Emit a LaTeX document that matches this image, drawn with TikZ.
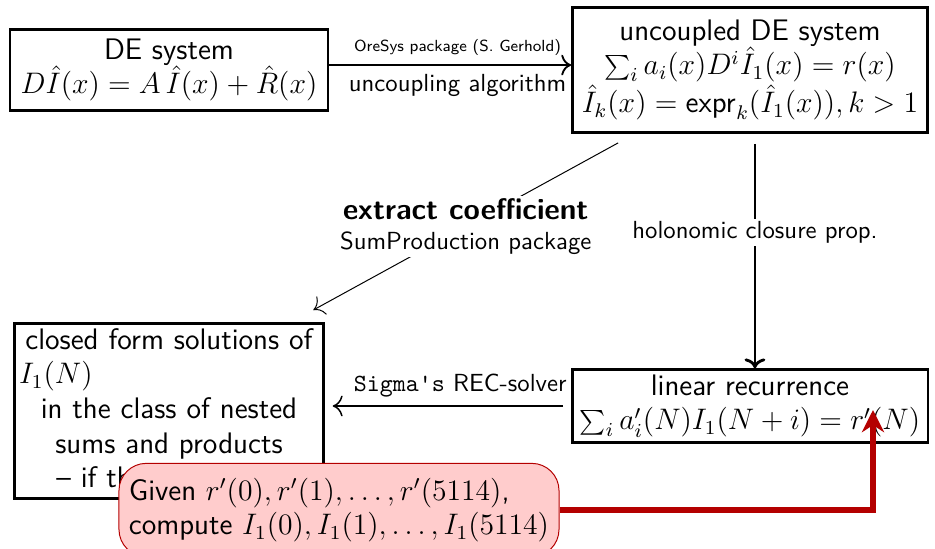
\documentclass[tikz,border=0pt]{standalone}
\usetikzlibrary{arrows.meta}
\renewcommand{\familydefault}{\sfdefault}
\definecolor{darkred}{RGB}{180,0,0}
\definecolor{lightred}{RGB}{255,204,204}

\begin{document}
\begin{tikzpicture}[
        x=0.0142cm, y=-0.0142cm, % one unit = one pixel of the slide
        box/.style={draw, line width=1.15pt, align=center, font=\large, inner sep=2pt}, % the main boxes
        flow/.style={draw, line width=0.75pt, -{To[length=4pt]}},
        thinflow/.style={draw, line width=0.4pt, -{To[length=4pt]}},
        lbl/.style={fill=white, align=center, inner sep=1pt},
        hint/.style={draw=darkred, fill=lightred, rounded corners=11pt, align=left, font=\large, inner sep=4pt},
        redflow/.style={draw=darkred, line width=2.5pt, -{Stealth[length=9pt,width=9pt]}},
    ]
    \useasboundingbox (0,0) rectangle (935,549);

    \node[box, minimum width=4.516cm, minimum height=1.15cm] (de) at (169,70)
        {DE system\\ $D\hat{I}(x) = A\,\hat{I}(x) + \hat{R}(x)$};
    \node[box, minimum width=5.041cm, minimum height=1.775cm] (unc) at (750,70)
        {uncoupled DE system\\ $\sum_i a_i(x) D^i \hat{I}_1(x) = r(x)$\\
         $\hat{I}_k(x) = \mathsf{expr}_k(\hat{I}_1(x)), k>1$};
    \node[box, minimum width=5.055cm, minimum height=0.966cm] (lin) at (750,406)
        {linear recurrence\\ $\sum_i a'_i(N) I_1(N+i) = r'(N)$};
    \node[box, text width=4.26cm, minimum height=2.443cm] (closed) at (169,411)
        {closed form solutions of\\ \makebox[\linewidth][l]{$I_1(N)$}\\
         in the class of nested\\ sums and products\\ -- if this is possible};

    % uncoupling
    \draw[flow] ([yshift=2pt]de.east) -- ([yshift=2pt]de.east -| unc.west)
        node[pos=0.53, above, font=\fontsize{6.5}{8}\selectfont] {OreSys package (S. Gerhold)}
        node[pos=0.53, below] {uncoupling algorithm};

    % coefficient extraction
    \draw[thinflow] ([shift={(47,9)}]unc.south west) -- ([shift={(-12,-12)}]closed.north east)
        node[lbl, pos=0.5] {\large\bfseries extract coefficient\\ SumProduction package};

    % closure properties
    \draw[flow, line width=1.15pt, shorten <=4pt] ([xshift=2pt]unc.south) -- ([xshift=2pt]lin.north)
        node[lbl, pos=0.42] {holonomic closure prop.};

    % solving
    \draw[thinflow, line width=0.6pt, shorten <=3pt, shorten >=3pt] (lin.west) -- (lin.west -| closed.east)
        node[pos=0.45, above] {\texttt{Sigma's} REC-solver};

    \node[hint, minimum height=1.325cm] (given) at (339,510)
        {Given $r'(0), r'(1), \ldots, r'(5114)$,\\ compute $I_1(0), I_1(1), \ldots, I_1(5114)$};
    \coordinate (hit) at (873,410);
    \draw[redflow] (given.east) -| (hit);
\end{tikzpicture}
\end{document}
